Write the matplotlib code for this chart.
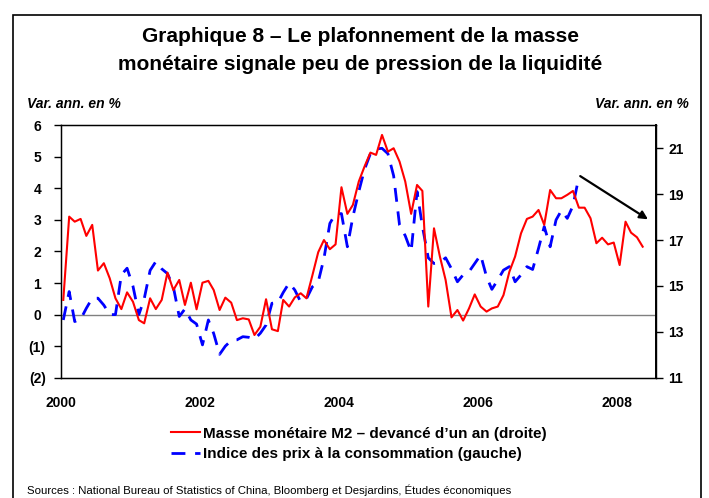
import numpy as np
import pandas as pd
import matplotlib
matplotlib.use('Agg')
import matplotlib.pyplot as plt
import matplotlib.dates as mdates
from matplotlib.lines import Line2D
from matplotlib.patches import Rectangle

plt.rcParams['font.family'] = ['Liberation Sans', 'DejaVu Sans']

# M2 money supply, y/y %, advanced one year (right axis), monthly from Jan 2000
m2 = [14.39, 18.02, 17.80, 17.92, 17.18, 17.66, 15.67, 15.99, 15.33, 14.46,
      13.99, 14.72, 14.31, 13.51, 13.37, 14.46, 13.99, 14.39, 15.58, 14.82,
      15.26, 14.17, 15.14, 13.98, 15.14, 15.22, 14.82, 13.95, 14.49, 14.27,
      13.51, 13.59, 13.54, 12.86, 13.22, 14.42, 13.11, 13.03, 14.39, 14.10,
      14.50, 14.68, 14.46, 15.45, 16.47, 17.00, 16.60, 16.81, 19.30, 18.14,
      18.53, 19.55, 20.20, 20.81, 20.71, 21.58, 20.85, 21.00, 20.42, 19.55,
      18.14, 19.40, 19.14, 14.10, 17.51, 16.28, 15.26, 13.63, 13.95, 13.49,
      14.02, 14.63, 14.10, 13.88, 14.02, 14.10, 14.60, 15.62, 16.28, 17.29,
      17.92, 18.02, 18.31, 17.66, 19.18, 18.82, 18.82, 18.97, 19.14, 18.41,
      18.41, 17.95, 16.86, 17.10, 16.81, 16.89, 15.91, 17.80, 17.32, 17.12,
      16.71]

# consumer price index, y/y % (left axis), monthly from Jan 2000
cpi = [-0.17, 0.73, -0.22, -0.15, 0.20, 0.52, 0.52, 0.30, 0.00, 0.00,
       1.26, 1.47, 0.90, 0.00, 0.50, 1.40, 1.68, 1.45, 1.30, 0.88,
       -0.06, 0.18, -0.17, -0.30, -0.96, -0.17, -0.60, -1.26, -1.00, -0.82,
       -0.80, -0.70, -0.72, -0.78, -0.59, -0.33, 0.36, 0.38, 0.70, 1.00,
       0.78, 0.40, 0.50, 0.88, 1.04, 1.78, 2.89, 3.20, 3.20, 2.15,
       3.10, 3.90, 4.60, 5.10, 5.25, 5.27, 5.10, 4.40, 2.84, 2.50,
       2.00, 3.90, 2.80, 1.80, 1.62, 1.65, 1.80, 1.45, 1.04, 1.26,
       1.36, 1.62, 1.89, 1.20, 0.80, 1.10, 1.41, 1.52, 1.04, 1.26,
       1.52, 1.43, 2.10, 2.79, 2.15, 3.00, 3.30, 3.05, 3.45, 4.37]

years = [2000, 2002, 2004, 2006, 2008]
left_ticks = [-2, -1, 0, 1, 2, 3, 4, 5, 6]
right_ticks = [11, 13, 15, 17, 19, 21]
arrow_start = ('2007-06-20', 4.39)
arrow_end = ('2008-06-10', 3.02)

dates_m2 = pd.date_range('2000-01-01', periods=len(m2), freq='MS') + pd.Timedelta(days=12)
dates_cpi = dates_m2[:len(cpi)]

fig = plt.figure(figsize=(7.09, 4.98), dpi=100)
W, H = 709, 498
ax = fig.add_axes([61 / W, (H - 377.7) / H, (656 - 61) / W, (377.7 - 125.3) / H])
ax2 = ax.twinx()

ax.plot(dates_cpi, cpi, color='#0000FF', lw=2, dashes=(5, 3.5))
ax.axhline(0, color='#808080', lw=1, zorder=0)
ax2.plot(dates_m2, m2, color='#FF0000', lw=1.5)

ax.set_xlim(pd.Timestamp('2000-01-01'), pd.Timestamp('2008-07-22'))
ax.set_ylim(-2, 6)
ax2.set_ylim(11, 22)

ax.set_xticks([pd.Timestamp(f'{y}-01-01') for y in years])
ax.set_xticklabels([str(y) for y in years], fontsize=10, fontweight='bold')
ax.tick_params(axis='x', length=0, pad=13)

ax.set_yticks(left_ticks)
ax.set_yticklabels([f'({abs(v)})' if v < 0 else f'{v} ' for v in left_ticks],
                   fontsize=10, fontweight='bold')
ax.tick_params(axis='y', direction='out', length=5, width=1, pad=6)

ax2.set_yticks(right_ticks)
ax2.set_yticklabels([str(v) for v in right_ticks], fontsize=10, fontweight='bold')
ax2.tick_params(axis='y', direction='out', length=5, width=1, pad=4)

for sp in ax.spines.values():
    sp.set_color('black')
    sp.set_linewidth(1)
ax2.spines['right'].set_linewidth(1.4)

x0 = mdates.date2num(pd.Timestamp(arrow_start[0]))
x1 = mdates.date2num(pd.Timestamp(arrow_end[0]))
ax2.annotate('', xy=(x1, arrow_end[1]), xytext=(x0, arrow_start[1]),
             xycoords=ax.transData, textcoords=ax.transData,
             arrowprops=dict(arrowstyle='-|>', color='black', lw=1.6,
                             mutation_scale=12, shrinkA=0, shrinkB=0))

fig.text(0.508, 1 - 36 / H, 'Graphique 8 – Le plafonnement de la masse',
         ha='center', va='center', fontsize=15, fontweight='bold')
fig.text(0.508, 1 - 64 / H, 'monétaire signale peu de pression de la liquidité',
         ha='center', va='center', fontsize=15, fontweight='bold')
fig.text(27 / W, 1 - 104 / H, 'Var. ann. en %', ha='left', va='center',
         fontsize=10, fontweight='bold', style='italic')
fig.text(689 / W, 1 - 104 / H, 'Var. ann. en %', ha='right', va='center',
         fontsize=10, fontweight='bold', style='italic')

handles = [Line2D([], [], color='#FF0000', lw=1.5),
           Line2D([], [], color='#0000FF', lw=2, dashes=(5, 3.5))]
labels = ['Masse monétaire M2 – devancé d’un an (droite)',
          'Indice des prix à la consommation (gauche)']
fig.legend(handles, labels, loc='center', bbox_to_anchor=(0.506, 1 - 444 / H),
           frameon=False, prop={'size': 11, 'weight': 'bold'},
           handlelength=1.85, handletextpad=0.2, labelspacing=0.42)

fig.text(27 / W, 1 - 490 / H,
         'Sources : National Bureau of Statistics of China, Bloomberg et Desjardins, Études économiques',
         ha='left', va='center', fontsize=8.2)

fig.patches.append(Rectangle((13 / W, -0.01), (701 - 13) / W, 1 - 15 / H + 0.01,
                             transform=fig.transFigure, fill=False,
                             ec='black', lw=1.2))

fig.savefig('out.png', dpi=100)
